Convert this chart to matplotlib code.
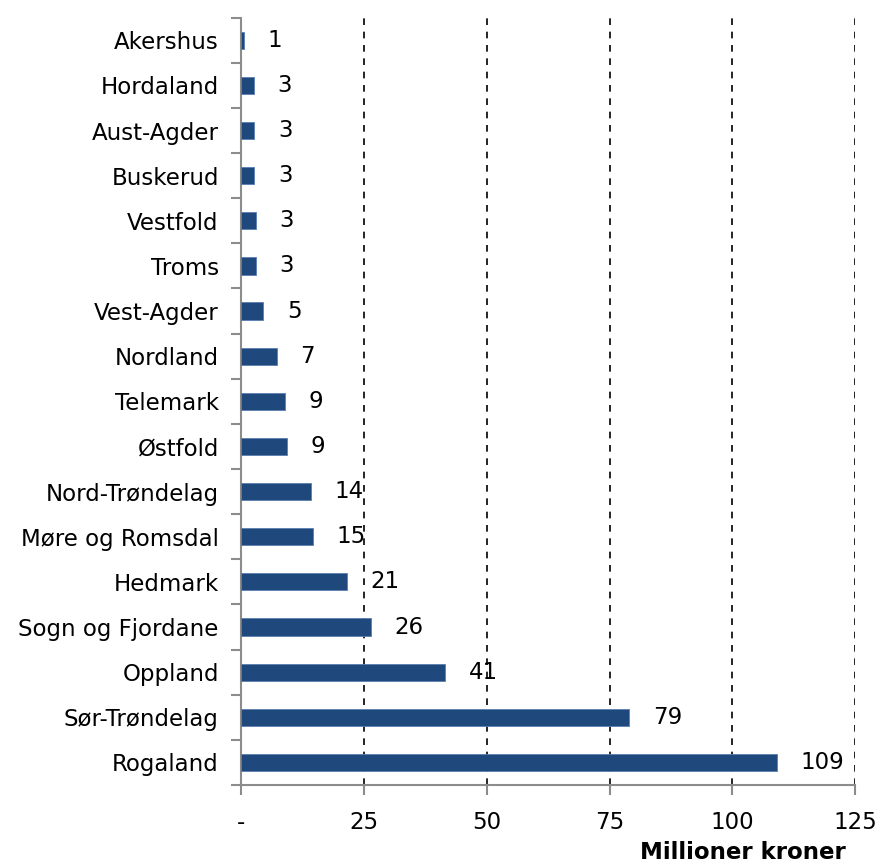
import matplotlib.pyplot as plt

# Fylker, sortert fra minst til størst (øverst til nederst)
fylker = ['Akershus', 'Hordaland', 'Aust-Agder', 'Buskerud', 'Vestfold', 'Troms',
          'Vest-Agder', 'Nordland', 'Telemark', 'Østfold', 'Nord-Trøndelag',
          'Møre og Romsdal', 'Hedmark', 'Sogn og Fjordane', 'Oppland',
          'Sør-Trøndelag', 'Rogaland']
verdier = [0.6, 2.6, 2.7, 2.7, 3.0, 3.0, 4.5, 7.3, 9.0, 9.4, 14.2, 14.7, 21.6,
           26.5, 41.5, 79.0, 109.0]
etiketter = ['1', '3', '3', '3', '3', '3', '5', '7', '9', '9', '14', '15', '21',
             '26', '41', '79', '109']
xticks = [0, 25, 50, 75, 100, 125]
xtick_labels = ['-', '25', '50', '75', '100', '125']

plt.rcParams['font.family'] = ['DejaVu Sans']
fs = 16.5

fig = plt.figure(figsize=(8.78, 8.67), dpi=100)
ax = fig.add_axes([0.2745, 0.0946, 0.6995, 0.885])

n = len(fylker)
ypos = list(range(n))
ax.barh(ypos, verdier, height=0.38, color='#1F497D', edgecolor='#5A7FB0', linewidth=0.6, zorder=3)

# verdietiketter litt til høyre for søylene
for y, v, lab in zip(ypos, verdier, etiketter):
    ax.annotate(lab, xy=(v, y), xytext=(17, 0), textcoords='offset points',
                ha='left', va='center', fontsize=fs, color='black', zorder=4)

ax.set_xlim(0, 125)
ax.set_ylim(n - 0.5, -0.5)

ax.set_yticks([i - 0.5 for i in range(n + 1)])
ax.set_yticklabels([])
ax.set_yticks(ypos, minor=True)
ax.set_yticklabels(fylker, minor=True, fontsize=fs)
ax.tick_params(axis='y', which='minor', length=0, pad=16)
ax.tick_params(axis='y', which='major', length=7, width=1.5, color='#8C8C8C', direction='out')

ax.set_xticks(xticks)
ax.set_xticklabels(xtick_labels, fontsize=fs)
ax.tick_params(axis='x', length=7, width=1.5, color='#8C8C8C', direction='out', pad=12)

for x in xticks[1:]:
    ax.axvline(x, color='black', linestyle=(0, (4, 4)), linewidth=1.2, zorder=1)

for s in ['top', 'right']:
    ax.spines[s].set_visible(False)
for s in ['left', 'bottom']:
    ax.spines[s].set_color('#8C8C8C')
    ax.spines[s].set_linewidth(1.5)

fig.text(0.963, 0.003, 'Millioner kroner', ha='right', va='bottom', fontsize=fs, fontweight='bold')

fig.savefig('out.png', dpi=100)
